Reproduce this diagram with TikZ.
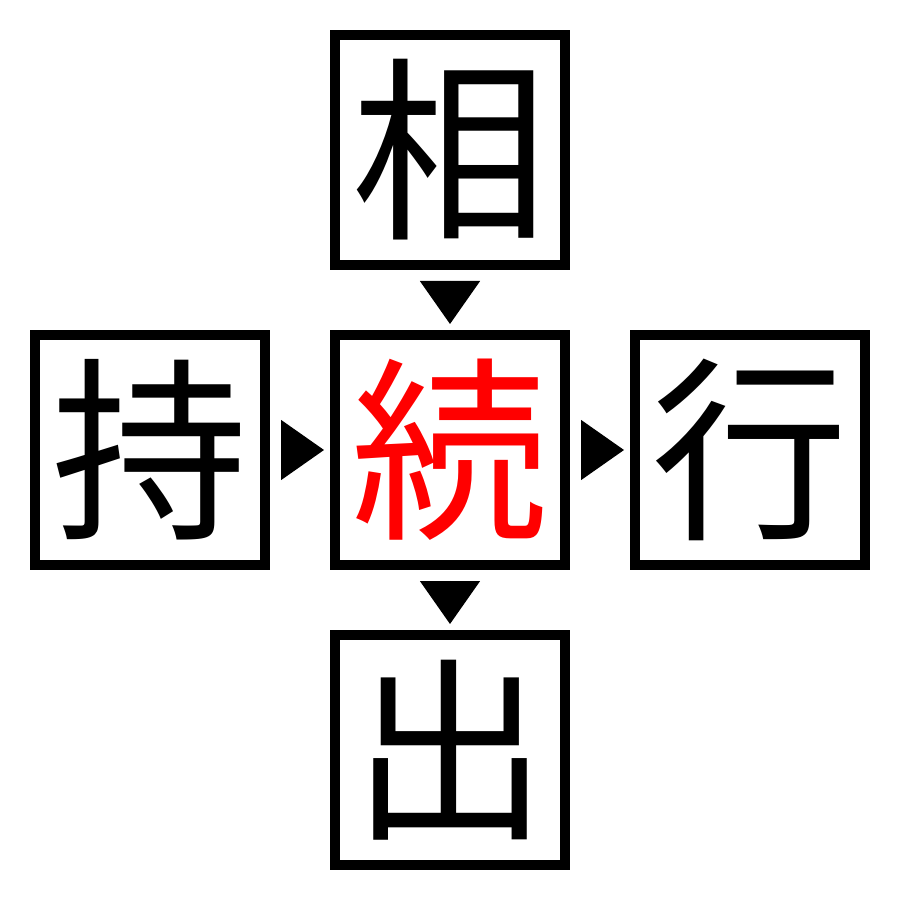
\documentclass[tikz,border=0pt]{standalone}
\usepackage{fontspec}
\newfontfamily\jp{Noto Sans CJK JP}
\usepackage{tikz}
\usetikzlibrary{positioning,arrows.meta}

\begin{document}
\begin{tikzpicture}[
  every node/.style = {shape=rectangle, draw, line width=0.10cm,
    minimum size=2.30cm, inner sep=0pt, align=center,
    font=\jp\fontsize{56}{56}\selectfont},
    arrowto/.style={draw, line width=0.4pt,
    -{Triangle[width=0.60cm,length=0.43cm]},
    shorten <=0.11cm, shorten >=0.06cm}
    ]
  \useasboundingbox (0,0) rectangle (9,9);
  \node (zoku) at (4.5,4.5) {\textcolor{red}{続}};
  \node[above=0.60cm of zoku] (sou) {相};
  \node[left=0.60cm of zoku] (ji) {持};
  \node[right=0.60cm of zoku] (kou) {行};
  \node[below=0.60cm of zoku] (shutsu) {出};
  % arrows
  \path[arrowto] (sou) -- (zoku);
  \path[arrowto] (ji) -- (zoku);
  \path[arrowto] (zoku) -- (kou);
  \path[arrowto] (zoku) -- (shutsu);
\end{tikzpicture}
\end{document}
